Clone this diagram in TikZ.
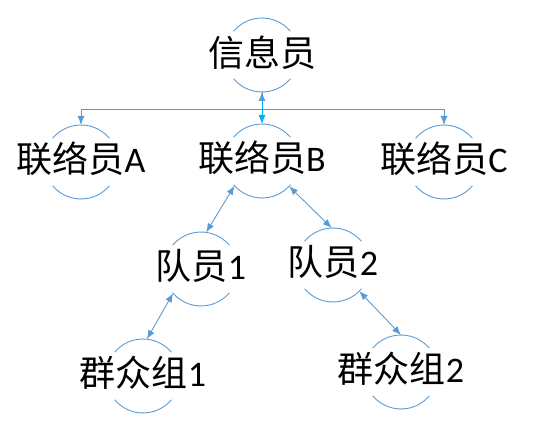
\documentclass[tikz,border=0pt]{standalone}
\usepackage{fontspec}
\setmainfont{Carlito}
\newfontfamily\cjk{Noto Sans CJK SC}
\usetikzlibrary{arrows.meta}
\definecolor{arcblue}{RGB}{91,155,213}
\definecolor{cyanb}{RGB}{0,176,240}
\tikzset{
  ring/.style={circle,minimum size=74pt,inner sep=0pt,outer sep=0pt},
  lbl/.style={inner sep=0pt,font=\fontsize{36}{40}\selectfont},
  arcline/.style={draw=arcblue,line width=0.9pt},
  conn/.style={draw=arcblue,line width=0.9pt},
  tip/.style={-{Latex[length=9pt,width=7pt]}},
  dtip/.style={{Latex[length=9pt,width=7pt]}-{Latex[length=9pt,width=7pt]}}
}
\newcommand{\ringarcs}[1]{%
  \draw[arcline] (#1) ++(40:37pt) arc[start angle=40,end angle=140,radius=37pt];
  \draw[arcline] (#1) ++(220:37pt) arc[start angle=220,end angle=320,radius=37pt];}
\begin{document}
\begin{tikzpicture}[x=1pt,y=1pt]
\useasboundingbox (0,0) rectangle (544,441);
% circles
\node[ring] (X) at (262,386) {};
\node[ring] (A) at (81,279) {};
\node[ring] (B) at (262,280) {};
\node[ring] (C) at (444,279) {};
\node[ring] (J1) at (201,172) {};
\node[ring] (J2) at (333,176) {};
\node[ring] (G1) at (143,65) {};
\node[ring] (G2) at (401,69) {};
\ringarcs{X}\ringarcs{A}\ringarcs{B}\ringarcs{C}
\ringarcs{J1}\ringarcs{J2}\ringarcs{G1}\ringarcs{G2}
% labels
\node[lbl] (Xt) at ([yshift=2pt]X) {\cjk 信息员};
\node[lbl] (At) at ([yshift=3pt]A) {{\cjk 联络员}A};
\node[lbl] (Bt) at ([yshift=3pt]B) {{\cjk 联络员}B};
\node[lbl] (Ct) at ([yshift=3pt]C) {{\cjk 联络员}C};
\node[lbl] (J1t) at ([yshift=3pt]J1) {{\cjk 队员}1};
\node[lbl] (J2t) at ([yshift=3pt]J2) {{\cjk 队员}2};
\node[lbl] (G1t) at ([yshift=3pt]G1) {{\cjk 群众组}1};
\node[lbl] (G2t) at ([yshift=3pt]G2) {{\cjk 群众组}2};
% connectors
\coordinate (hub) at (262,332);
\draw[conn] (X.270) -- (hub);
\draw[conn,tip] (hub) -| (A.90);
\draw[conn,tip] (hub) -| (C.90);
\draw[draw=cyanb,line width=0.9pt,{Latex[length=9pt,width=7pt,color=arcblue]}-{Latex[length=9pt,width=7pt]}] (X.270) -- (B.90);
\draw[conn,dtip] (B.222) -- (J1.82);
\draw[conn,dtip] (B.317) -- (J2.92);
\draw[conn,dtip] (J1.221) -- (G1.84);
\draw[conn,dtip] (J2.315) -- (G2.90);
\end{tikzpicture}
\end{document}
